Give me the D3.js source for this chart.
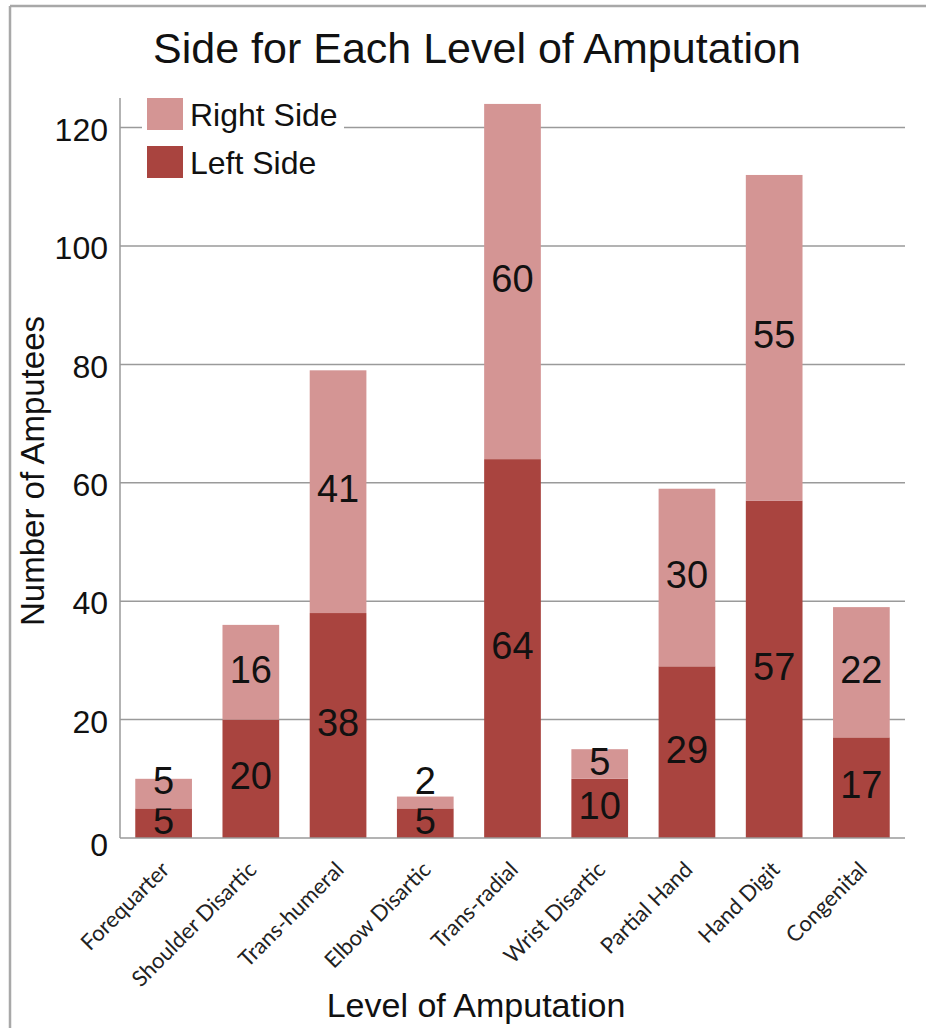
<!DOCTYPE html>
<html>
<head>
<meta charset="utf-8">
<script src="https://cdn.jsdelivr.net/npm/d3@7"></script>
<style>
  body { margin: 0; background: #fff; }
  svg { display: block; }
</style>
</head>
<body>
<script>
// chart data
const categories = ['Forequarter', 'Shoulder Disartic', 'Trans-humeral', 'Elbow Disartic',
  'Trans-radial', 'Wrist Disartic', 'Partial Hand', 'Hand Digit', 'Congenital']
const leftSide = [5, 20, 38, 5, 64, 10, 29, 57, 17]
const rightSide = [5, 16, 41, 2, 60, 5, 30, 55, 22]
const yTicks = [0, 20, 40, 60, 80, 100, 120]
const seriesNames = ['Right Side', 'Left Side']

const width = 926
const height = 1028
const darkRed = '#a9443f'
const lightRed = '#d49594'
const gridColor = '#9a9a9a'
const labelFont = 'Liberation Sans, Arial, sans-serif'

const svg = d3.select('body')
  .append('svg')
  .attr('width', width)
  .attr('height', height)

// outer frame (only top + left edges show in the picture)
svg.append('line').attr('x1', 10).attr('x2', width).attr('y1', 6).attr('y2', 6)
  .attr('stroke', '#a8a8a8').attr('stroke-width', 2.5)
svg.append('line').attr('x1', 10).attr('x2', 10).attr('y1', 6).attr('y2', height)
  .attr('stroke', '#a8a8a8').attr('stroke-width', 2.5)

const x = d3.scaleBand()
  .domain(categories)
  .range([120, 905])
  .paddingInner(0.35)
  .paddingOuter(0.175)

const y = d3.scaleLinear()
  .domain([0, 125])
  .range([838, 98])

// gridlines
svg.append('g')
  .selectAll('line')
  .data(yTicks.filter(d => d > 0))
  .enter()
  .append('line')
  .attr('x1', 120)
  .attr('x2', 905)
  .attr('y1', d => y(d))
  .attr('y2', d => y(d))
  .attr('stroke', gridColor)
  .attr('stroke-width', 1.5)

// y axis labels
svg.append('g')
  .selectAll('text')
  .data(yTicks)
  .enter()
  .append('text')
  .attr('x', 108)
  .attr('y', d => y(d) + (d === 0 ? 7 : 2))
  .attr('dy', '0.35em')
  .attr('text-anchor', 'end')
  .attr('font-family', labelFont)
  .attr('font-size', 32)
  .attr('fill', '#111')
  .text(d => d)

// stacked bars
const stackData = categories.map((c, i) => ({ cat: c, left: leftSide[i], right: rightSide[i] }))
const stack = d3.stack().keys(['left', 'right'])(stackData)
const colors = { left: darkRed, right: lightRed }

const layers = svg.append('g')
  .selectAll('g')
  .data(stack)
  .enter()
  .append('g')
  .attr('fill', d => colors[d.key])

layers.selectAll('rect')
  .data(d => d)
  .enter()
  .append('rect')
  .attr('x', d => x(d.data.cat))
  .attr('width', x.bandwidth())
  .attr('y', d => y(d[1]))
  .attr('height', d => y(d[0]) - y(d[1]))

// value labels: middle of each segment, right-side label pushed up when
// the segments are too thin to hold both
function labelY(s, key) {
  const leftY = y(s[0] / 2 + (key === 'left' ? s[1] / 2 : s[0] / 2)) - 3
  if (key === 'left') return leftY
  const mid = y((s[0] + s[1]) / 2) - 3
  const below = y(s[0] / 2) - 3
  return Math.min(mid, below - 40)
}

layers.selectAll('text')
  .data(d => d.map(s => ({ s: s, key: d.key })))
  .enter()
  .append('text')
  .attr('x', d => x(d.s.data.cat) + x.bandwidth() / 2)
  .attr('y', d => labelY(d.s, d.key))
  .attr('dy', '0.36em')
  .attr('text-anchor', 'middle')
  .attr('font-family', labelFont)
  .attr('font-size', 38)
  .attr('fill', '#111')
  .text(d => d.s.data[d.key])

// axes lines
svg.append('line').attr('x1', 120).attr('x2', 120).attr('y1', y(125)).attr('y2', y(0))
  .attr('stroke', gridColor).attr('stroke-width', 1.5)
svg.append('line').attr('x1', 120).attr('x2', 905).attr('y1', y(0)).attr('y2', y(0))
  .attr('stroke', gridColor).attr('stroke-width', 1.5)

// x category labels, rotated
svg.append('g')
  .selectAll('text')
  .data(categories)
  .enter()
  .append('text')
  .attr('transform', d => 'translate(' + (x(d) + x.bandwidth() / 2 + 7) + ',871) rotate(-45)')
  .attr('text-anchor', 'end')
  .attr('font-family', 'Lato, Open Sans, sans-serif')
  .attr('font-size', 22)
  .attr('fill', '#222')
  .text(d => d)

// legend
const legend = svg.append('g')
legend.append('rect')
  .attr('x', 142).attr('y', 94).attr('width', 202).attr('height', 88)
  .attr('fill', '#fff')
seriesNames.forEach((name, i) => {
  legend.append('rect')
    .attr('x', 147).attr('y', 98 + i * 48)
    .attr('width', 36).attr('height', 32)
    .attr('fill', i === 0 ? lightRed : darkRed)
  legend.append('text')
    .attr('x', 190).attr('y', 126 + i * 48)
    .attr('font-family', labelFont)
    .attr('font-size', 32)
    .attr('fill', '#111')
    .text(name)
})

// titles
svg.append('text')
  .attr('x', 477).attr('y', 63)
  .attr('text-anchor', 'middle')
  .attr('font-family', labelFont)
  .attr('font-size', 43)
  .attr('fill', '#111')
  .text('Side for Each Level of Amputation')

svg.append('text')
  .attr('x', 476).attr('y', 1017)
  .attr('text-anchor', 'middle')
  .attr('font-family', labelFont)
  .attr('font-size', 34)
  .attr('fill', '#111')
  .text('Level of Amputation')

svg.append('text')
  .attr('transform', 'translate(44,471) rotate(-90)')
  .attr('text-anchor', 'middle')
  .attr('font-family', labelFont)
  .attr('font-size', 33)
  .attr('fill', '#111')
  .text('Number of Amputees')
</script>
</body>
</html>
